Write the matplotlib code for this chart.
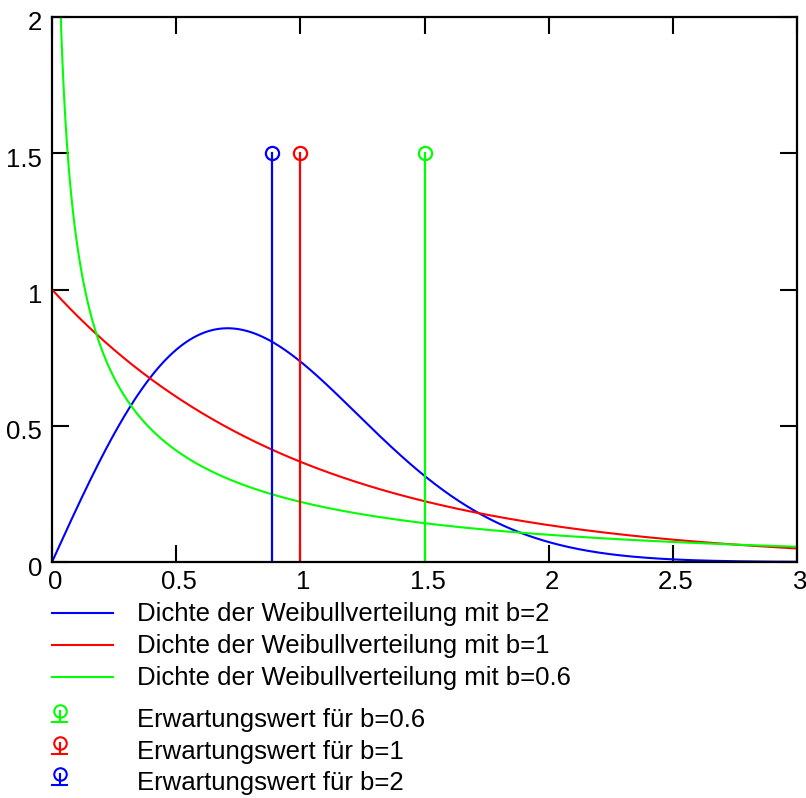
import numpy as np
import matplotlib
matplotlib.use("Agg")
import matplotlib.pyplot as plt
from matplotlib.lines import Line2D
from matplotlib.transforms import ScaledTranslation

plt.rcParams['font.family'] = ['Liberation Sans', 'DejaVu Sans']

# Data
shapes = [2, 1, 0.6]                       # Weibull shape parameter b (scale 1)
colors = ['#0000ff', '#ff0000', '#00ff00']
curve_labels = ['Dichte der Weibullverteilung mit b=2',
                'Dichte der Weibullverteilung mit b=1',
                'Dichte der Weibullverteilung mit b=0.6']
exp_values = [0.886, 1.0, 1.504]           # expectation for b=2, 1, 0.6
stem_height = 1.5
exp_labels = ['Erwartungswert für b=0.6', 'Erwartungswert für b=1', 'Erwartungswert für b=2']
exp_label_colors = ['#00ff00', '#ff0000', '#0000ff']
xticks = [0, 0.5, 1, 1.5, 2, 2.5, 3]
xticklabels = ['0', '0.5', '1', '1.5', '2', '2.5', '3']
yticks = [0, 0.5, 1, 1.5, 2]
yticklabels = ['0', '0.5', '1', '1.5', '2']

W, H = 806, 798
fig = plt.figure(figsize=(W / 100, H / 100), dpi=100)
L, R, T, B = 52, 797, 17, 562
ax = fig.add_axes([L / W, 1 - B / H, (R - L) / W, (B - T) / H])

FS = 18.5
x = np.linspace(1e-4, 3, 3000)
for b, c in zip(shapes, colors):
    y = b * x ** (b - 1) * np.exp(-x ** b)
    ax.plot(x, y, color=c, lw=1.5, clip_on=True)

for xv, c in zip(exp_values, colors):
    ax.plot([xv, xv], [0, stem_height], color=c, lw=1.6)
    ax.plot([xv], [stem_height], marker='o', ms=9.5, mfc='none', mec=c, mew=1.6)

ax.set_xlim(0, 3)
ax.set_ylim(0, 2)
ax.set_xticks(xticks)
ax.set_xticklabels(xticklabels)
ax.set_yticks(yticks)
ax.set_yticklabels(yticklabels)
ax.tick_params(direction='in', length=12, width=1.5, top=True, right=True,
               labelsize=FS, pad=6, color='black')
ax.tick_params(axis='y', pad=7)
for s in ax.spines.values():
    s.set_linewidth(1.6)
for lab in ax.get_xticklabels():
    lab.set_transform(lab.get_transform() + ScaledTranslation(3 / 100, 0, fig.dpi_scale_trans))
for lab in ax.get_yticklabels():
    lab.set_transform(lab.get_transform() + ScaledTranslation(0, -4 / 100, fig.dpi_scale_trans))

# Legend drawn in pixel coordinates
lax = fig.add_axes([0, 0, 1, 1])
lax.set_xlim(0, W)
lax.set_ylim(H, 0)
lax.axis('off')
leg_y = [613, 645, 677]
for yy, c, lab in zip(leg_y, colors, curve_labels):
    lax.add_line(Line2D([52, 113], [yy, yy], color=c, lw=1.5))
    lax.text(137, yy + 1, lab, fontsize=FS, va='center', ha='left')
exp_y = [712, 744, 775]
for yy, c, lab in zip(exp_y, exp_label_colors, exp_labels):
    lax.add_line(Line2D([60, 60], [yy - 1, yy + 10], color=c, lw=1.5))
    lax.add_line(Line2D([52, 67], [yy + 10, yy + 10], color=c, lw=1.5))
    lax.plot([60], [yy - 1], marker='o', ms=9, mfc='none', mec=c, mew=1.5)
    lax.text(137, yy + 8, lab, fontsize=FS, va='center', ha='left')

fig.savefig('out.png', dpi=100)
